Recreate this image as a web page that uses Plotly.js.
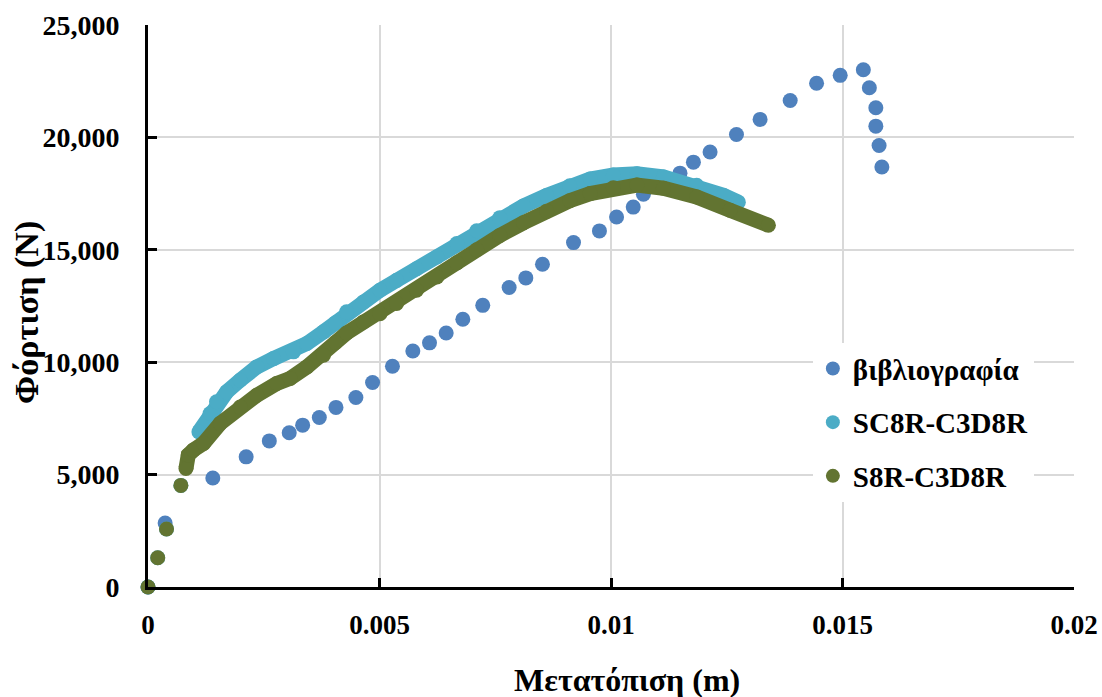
<!DOCTYPE html>
<html>
<head>
<meta charset="utf-8">
<script src="https://cdn.plot.ly/plotly-3.0.1.min.js"></script>
<style>
  html, body { margin: 0; padding: 0; background: #ffffff; }
  #chart { width: 1102px; height: 697px; }
</style>
</head>
<body>
<div id="chart"></div>
<script>
// Reference (literature) load–displacement points
const refX = [0, 0.00037, 0.0014, 0.00212, 0.00262, 0.00305, 0.00334, 0.0037, 0.00406, 0.00449,
  0.00485, 0.00528, 0.00572, 0.00608, 0.00644, 0.0068, 0.00723, 0.0078, 0.00816, 0.00852,
  0.00919, 0.00975, 0.01012, 0.01048, 0.0107, 0.0111, 0.01149, 0.01178, 0.01214, 0.01271,
  0.01322, 0.01387, 0.01444, 0.01495, 0.01545, 0.01558, 0.01572, 0.01572, 0.01579, 0.01585];
const refY = [0, 2850, 4850, 5790, 6500, 6860, 7200, 7540, 7990, 8430,
  9100, 9820, 10500, 10860, 11300, 11910, 12530, 13320, 13750, 14360,
  15320, 15840, 16460, 16900, 17470, 17950, 18410, 18900, 19350, 20130,
  20800, 21640, 22410, 22760, 23010, 22210, 21320, 20500, 19640, 18680];

// SC8R-C3D8R model: first increments, then the continuous response
const scStartX = [0, 0.00021, 0.0004, 0.00071];
const scStartY = [0, 1300, 2580, 4520];
const scX = [0.0011, 0.00134, 0.00148, 0.0017, 0.00199, 0.00235, 0.00271, 0.00314, 0.00343, 0.00379,
  0.00405, 0.00429, 0.00465, 0.00501, 0.00537, 0.0058, 0.00624, 0.00667, 0.0071, 0.0076,
  0.00811, 0.00861, 0.00911, 0.00955, 0.01005, 0.01056, 0.01113, 0.01185, 0.01243, 0.01275];
const scY = [6900, 7720, 8240, 8680, 9200, 9790, 10160, 10460, 10830, 11350,
  11750, 12240, 12680, 13200, 13640, 14160, 14680, 15280, 15850, 16430,
  16950, 17420, 17850, 18150, 18330, 18380, 18240, 17870, 17420, 17120];

// S8R-C3D8R model: first increments, then the continuous response
const sStartX = [0, 0.00021, 0.0004, 0.00071];
const sStartY = [0, 1300, 2580, 4520];
const sX = [0.00082, 0.00087, 0.00098, 0.0012, 0.00156, 0.00199, 0.00235, 0.00278, 0.00307, 0.00343,
  0.00379, 0.00405, 0.00429, 0.00465, 0.00501, 0.00537, 0.0058, 0.00624, 0.00667, 0.0071,
  0.0076, 0.00811, 0.00861, 0.00911, 0.00955, 0.01005, 0.01056, 0.01113, 0.01185, 0.01257, 0.0134];
const sY = [5270, 5870, 6090, 6390, 7280, 8010, 8530, 9050, 9280, 9790,
  10310, 10880, 11300, 11790, 12160, 12610, 13200, 13790, 14420, 15000,
  15640, 16200, 16720, 17180, 17500, 17760, 17880, 17740, 17350, 16760, 16090];

const seriesNames = ['βιβλιογραφία', 'SC8R-C3D8R', 'S8R-C3D8R'];
const colors = ['#4F81BD', '#4BACC6', '#627431'];

const xTitle = 'Μετατόπιση (m)';
const yTitle = 'Φόρτιση (N)';

const FONT = 'Liberation Serif, Times New Roman, serif';
const DOT = 15;

const traces = [
  { x: refX, y: refY, mode: 'markers', type: 'scatter', showlegend: false, cliponaxis: false,
    marker: { color: colors[0], size: DOT } },
  { x: scStartX, y: scStartY, mode: 'markers', type: 'scatter', showlegend: false, cliponaxis: false,
    marker: { color: colors[1], size: DOT } },
  { x: scX, y: scY, mode: 'lines+markers', type: 'scatter', showlegend: false,
    line: { color: colors[1], width: DOT }, marker: { color: colors[1], size: DOT } },
  { x: sStartX, y: sStartY, mode: 'markers', type: 'scatter', showlegend: false, cliponaxis: false,
    marker: { color: colors[2], size: DOT } },
  { x: sX, y: sY, mode: 'lines+markers', type: 'scatter', showlegend: false,
    line: { color: colors[2], width: DOT }, marker: { color: colors[2], size: DOT } }
];

// legend entries shown as plain dots
seriesNames.forEach((name, i) => {
  traces.push({ x: [null], y: [null], mode: 'markers', type: 'scatter', name: name,
    legendgroup: 'g' + i, marker: { color: colors[i], size: 14 } });
});

const axisCommon = {
  showline: true, linecolor: '#000000', linewidth: 3,
  ticks: 'inside', ticklen: 9, tickwidth: 3, tickcolor: '#000000',
  showgrid: true, gridcolor: '#d9d9d9', gridwidth: 2,
  zeroline: false, automargin: false
};

const titleFont = { family: FONT, color: '#000000', weight: 700 };

const layout = {
  width: 1102, height: 697,
  margin: { l: 148, r: 28, t: 25, b: 110 },
  paper_bgcolor: '#ffffff', plot_bgcolor: '#ffffff',
  showlegend: true,
  xaxis: Object.assign({}, axisCommon, {
    range: [0, 0.02], dtick: 0.005, tick0: 0, ticklabelstandoff: 12,
    tickfont: { family: FONT, size: 27, color: '#000000', weight: 700 }
  }),
  yaxis: Object.assign({}, axisCommon, {
    range: [0, 25000], dtick: 5000, tick0: 0, tickformat: ',d', ticklabelstandoff: 20,
    tickfont: { family: FONT, size: 28, color: '#000000', weight: 700 }
  }),
  annotations: [
    { text: xTitle, xref: 'paper', yref: 'paper', x: 0.517, y: -0.1655,
      xanchor: 'center', yanchor: 'middle', showarrow: false,
      font: Object.assign({ size: 32 }, titleFont) },
    { text: yTitle, xref: 'paper', yref: 'paper', x: -0.131, y: 0.489, textangle: -90,
      xanchor: 'center', yanchor: 'middle', showarrow: false,
      font: Object.assign({ size: 34 }, titleFont) }
  ],
  legend: {
    x: 0.718, y: 0.434, xanchor: 'left', yanchor: 'top',
    bgcolor: '#ffffff', borderwidth: 0, tracegroupgap: 13,
    font: { family: FONT, size: 29, color: '#000000', weight: 700 }
  }
};

Plotly.newPlot('chart', traces, layout, { displayModeBar: false, staticPlot: true });
</script>
</body>
</html>
